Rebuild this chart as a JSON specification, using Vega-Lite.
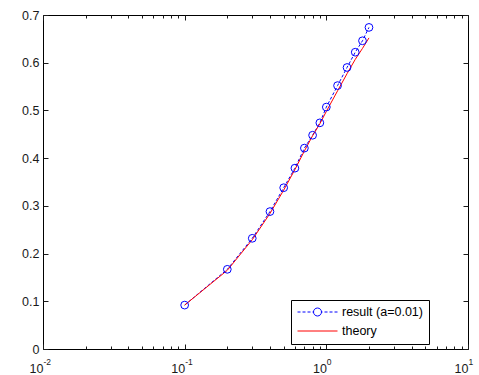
{
  "$schema": "https://vega.github.io/schema/vega-lite/v6.json",
  "width": 425,
  "height": 334,
  "autosize": {"type": "none"},
  "padding": {"left": 43, "top": 15, "right": 11, "bottom": 26},
  "background": "white",
  "config": {
    "view": {"stroke": "#000", "strokeWidth": 1},
    "font": "Liberation Sans",
    "axis": {
      "grid": false, "domain": false, "title": null,
      "labelFont": "Liberation Sans", "labelFontSize": 12.5, "labelColor": "#1a1a1a",
      "tickColor": "#1a1a1a", "tickWidth": 1, "labelOverlap": false, "labelFlush": false
    }
  },
  "data": {
    "values": [
      {"x": 0.1, "y": 0.092, "series": "result (a=0.01)"},
      {"x": 0.2, "y": 0.167, "series": "result (a=0.01)"},
      {"x": 0.3, "y": 0.232, "series": "result (a=0.01)"},
      {"x": 0.4, "y": 0.288, "series": "result (a=0.01)"},
      {"x": 0.5, "y": 0.338, "series": "result (a=0.01)"},
      {"x": 0.6, "y": 0.379, "series": "result (a=0.01)"},
      {"x": 0.7, "y": 0.421, "series": "result (a=0.01)"},
      {"x": 0.8, "y": 0.448, "series": "result (a=0.01)"},
      {"x": 0.9, "y": 0.474, "series": "result (a=0.01)"},
      {"x": 1.0, "y": 0.507, "series": "result (a=0.01)"},
      {"x": 1.2, "y": 0.552, "series": "result (a=0.01)"},
      {"x": 1.4, "y": 0.590, "series": "result (a=0.01)"},
      {"x": 1.6, "y": 0.622, "series": "result (a=0.01)"},
      {"x": 1.8, "y": 0.646, "series": "result (a=0.01)"},
      {"x": 2.0, "y": 0.674, "series": "result (a=0.01)"},
      {"x": 0.1, "y": 0.092, "series": "theory"},
      {"x": 0.2, "y": 0.165, "series": "theory"},
      {"x": 0.3, "y": 0.229, "series": "theory"},
      {"x": 0.4, "y": 0.284, "series": "theory"},
      {"x": 0.5, "y": 0.333, "series": "theory"},
      {"x": 0.6, "y": 0.376, "series": "theory"},
      {"x": 0.7, "y": 0.415, "series": "theory"},
      {"x": 0.8, "y": 0.447, "series": "theory"},
      {"x": 0.9, "y": 0.472, "series": "theory"},
      {"x": 1.0, "y": 0.498, "series": "theory"},
      {"x": 1.2, "y": 0.541, "series": "theory"},
      {"x": 1.4, "y": 0.577, "series": "theory"},
      {"x": 1.6, "y": 0.607, "series": "theory"},
      {"x": 1.8, "y": 0.630, "series": "theory"},
      {"x": 2.0, "y": 0.652, "series": "theory"}
    ]
  },
  "resolve": {"axis": {"x": "independent", "y": "independent"}},
  "layer": [
    {
      "transform": [{"filter": "datum.series === 'result (a=0.01)'"}],
      "mark": {"type": "line", "strokeDash": [3, 2], "strokeWidth": 1},
      "encoding": {
        "x": {"field": "x", "type": "quantitative",
          "scale": {"type": "log", "domain": [0.01, 10], "nice": false},
          "axis": {"orient": "bottom", "values": [0.01, 0.1, 1, 10], "ticks": false, "labelExpr": "'10'", "labelAlign": "right", "labelDx": 3.5, "labelPadding": 13}},
        "y": {"field": "y", "type": "quantitative",
          "scale": {"domain": [0, 0.7], "nice": false, "zero": false},
          "axis": {"orient": "left", "values": [0, 0.1, 0.2, 0.3, 0.4, 0.5, 0.6, 0.7], "format": ".1~f", "ticks": false, "labelPadding": 4}},
        "color": {"field": "series", "type": "nominal",
          "scale": {"domain": ["result (a=0.01)", "theory"], "range": ["#0000ff", "#ff0000"]},
          "legend": {
            "orient": "none", "legendX": 248, "legendY": 285, "title": null,
            "symbolSize": 1600, "clipHeight": 12, "rowPadding": 6, "padding": 6,
            "strokeColor": "#000", "fillColor": "#fff", "cornerRadius": 0,
            "labelFont": "Liberation Sans", "labelFontSize": 12.5, "labelColor": "#000", "labelOffset": 4,
            "encode": {"symbols": {"update": {
              "shape": {"signal": "datum.value === 'theory' ? 'M-1,0H1' : 'M-1,0H-0.85M-0.75,0H-0.6M-0.5,0H-0.35M-0.25,0H-0.2M0.2,0H0.25M0.35,0H0.5M0.6,0H0.75M0.85,0H1M-0.2,0A0.2,0.2 0 1 1 0.2,0A0.2,0.2 0 1 1 -0.2,0'"},
              "fill": {"value": "transparent"},
              "strokeWidth": {"value": 1},
              "strokeDash": {"value": []},
              "size": {"value": 1600},
              "opacity": {"value": 1}
            }}}
          }}
      }
    },
    {
      "transform": [{"filter": "datum.series === 'theory'"}],
      "mark": {"type": "line", "strokeWidth": 1},
      "encoding": {
        "x": {"field": "x", "type": "quantitative",
          "scale": {"type": "log", "domain": [0.01, 10], "nice": false},
          "axis": {"orient": "bottom", "values": [0.01, 0.1, 1, 10], "ticks": false, "labelExpr": "datum.value < 0.05 ? '-2' : datum.value < 0.5 ? '-1' : datum.value < 5 ? '0' : '1'", "labelAlign": "left", "labelDx": 3.5, "labelFontSize": 8.5, "labelPadding": 8.5}},
        "y": {"field": "y", "type": "quantitative",
          "scale": {"domain": [0, 0.7], "nice": false, "zero": false},
          "axis": {"orient": "left", "values": [0, 0.1, 0.2, 0.3, 0.4, 0.5, 0.6, 0.7], "labels": false, "tickSize": -5}},
        "color": {"field": "series", "type": "nominal",
          "scale": {"domain": ["result (a=0.01)", "theory"], "range": ["#0000ff", "#ff0000"]}}
      }
    },
    {
      "transform": [{"filter": "datum.series === 'result (a=0.01)' && datum.x < 1"}],
      "mark": {"type": "point", "shape": "circle", "filled": false, "size": 60, "strokeWidth": 1, "opacity": 1},
      "encoding": {
        "x": {"field": "x", "type": "quantitative",
          "scale": {"type": "log", "domain": [0.01, 10], "nice": false},
          "axis": {"orient": "bottom", "labels": false,
            "values": [0.01, 0.02, 0.03, 0.04, 0.05, 0.06, 0.07, 0.08, 0.09, 0.1, 0.2, 0.3, 0.4, 0.5, 0.6, 0.7, 0.8, 0.9, 1, 2, 3, 4, 5, 6, 7, 8, 9, 10],
            "tickSize": {"condition": {"test": "datum.value == 0.01 || datum.value == 0.1 || datum.value == 1 || datum.value == 10", "value": -5}, "value": -3}}},
        "y": {"field": "y", "type": "quantitative",
          "scale": {"domain": [0, 0.7], "nice": false, "zero": false},
          "axis": {"orient": "right", "values": [0, 0.1, 0.2, 0.3, 0.4, 0.5, 0.6, 0.7], "labels": false, "tickSize": -5}},
        "color": {"field": "series", "type": "nominal",
          "scale": {"domain": ["result (a=0.01)", "theory"], "range": ["#0000ff", "#ff0000"]}}
      }
    },
    {
      "transform": [{"filter": "datum.series === 'result (a=0.01)' && datum.x >= 1"}],
      "mark": {"type": "point", "shape": "circle", "filled": false, "size": 60, "strokeWidth": 1, "opacity": 1},
      "encoding": {
        "x": {"field": "x", "type": "quantitative",
          "scale": {"type": "log", "domain": [0.01, 10], "nice": false},
          "axis": {"orient": "top", "labels": false,
            "values": [0.01, 0.02, 0.03, 0.04, 0.05, 0.06, 0.07, 0.08, 0.09, 0.1, 0.2, 0.3, 0.4, 0.5, 0.6, 0.7, 0.8, 0.9, 1, 2, 3, 4, 5, 6, 7, 8, 9, 10],
            "tickSize": {"condition": {"test": "datum.value == 0.01 || datum.value == 0.1 || datum.value == 1 || datum.value == 10", "value": -5}, "value": -3}}},
        "y": {"field": "y", "type": "quantitative",
          "scale": {"domain": [0, 0.7], "nice": false, "zero": false},
          "axis": null},
        "color": {"field": "series", "type": "nominal",
          "scale": {"domain": ["result (a=0.01)", "theory"], "range": ["#0000ff", "#ff0000"]}}
      }
    }
  ]
}
